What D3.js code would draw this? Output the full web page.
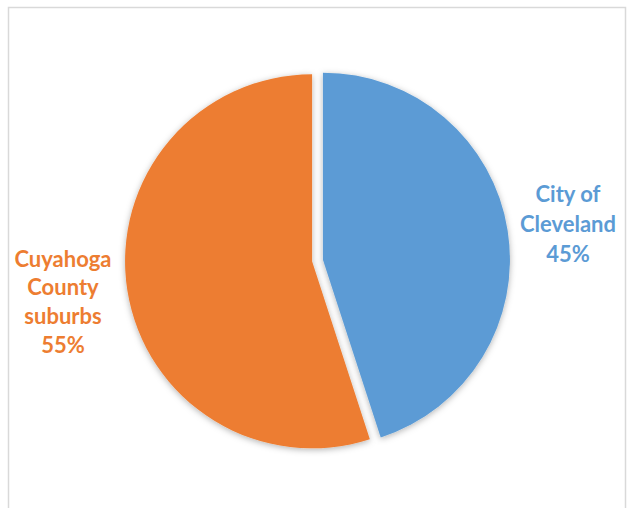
<!DOCTYPE html>
<html>
<head>
<meta charset="utf-8">
<script src="https://cdn.jsdelivr.net/npm/d3@7"></script>
<style>
  html, body { margin: 0; padding: 0; background: #fff; }
  svg { display: block; }
  text { font-family: "Lato", "Open Sans", sans-serif; font-weight: 700; }
</style>
</head>
<body>
<svg id="chart" width="632" height="508"></svg>
<script>
// Share of population by area
const categories = ["City of Cleveland", "Cuyahoga County suburbs"];
const values = [45, 55];
const labelLines = [["City of", "Cleveland", "45%"], ["Cuyahoga", "County", "suburbs", "55%"]];
const colors = ["#5B9BD5", "#ED7D31"];

const W = 632, H = 508;
const svg = d3.select("#chart");

// chart area frame
svg.append("rect")
  .attr("x", 8.5).attr("y", 7.5)
  .attr("width", 617).attr("height", 520)
  .attr("fill", "#fff")
  .attr("stroke", "#d9d9d9").attr("stroke-width", 1.5);

const defs = svg.append("defs");
const f = defs.append("filter").attr("id", "soft")
  .attr("x", "-20%").attr("y", "-20%").attr("width", "140%").attr("height", "140%");
f.append("feDropShadow")
  .attr("dx", 0).attr("dy", 1.5).attr("stdDeviation", 3)
  .attr("flood-color", "#000").attr("flood-opacity", 0.3);

const cx = 317.5, cy = 260.5, r = 187, explode = 5.5;

const pie = d3.pie().sort(null).value(d => d)
  .startAngle(0).endAngle(2 * Math.PI);
const arcs = pie(values);
const arc = d3.arc().innerRadius(0).outerRadius(r);

const g = svg.append("g").attr("transform", `translate(${cx},${cy})`);

g.selectAll("path.slice")
  .data(arcs)
  .join("path")
  .attr("class", "slice")
  .attr("d", arc)
  .attr("fill", (d, i) => colors[i])
  .attr("filter", "url(#soft)")
  .attr("transform", d => {
    const a = (d.startAngle + d.endAngle) / 2;
    return `translate(${explode * Math.sin(a)},${-explode * Math.cos(a)})`;
  });

// data labels placed outside each slice
const labelPos = [
  { x: 568, y: 196 },
  { x: 63, y: 261 }
];
const lineH = [30, 28.7];

arcs.forEach((d, i) => {
  const t = svg.append("text")
    .attr("text-anchor", "middle")
    .attr("fill", colors[i])
    .attr("font-size", 22);
  labelLines[i].forEach((s, k) => {
    t.append("tspan")
      .attr("x", labelPos[i].x)
      .attr("y", labelPos[i].y + k * lineH[i])
      .attr("dominant-baseline", "middle")
      .text(s);
  });
});
</script>
</body>
</html>
